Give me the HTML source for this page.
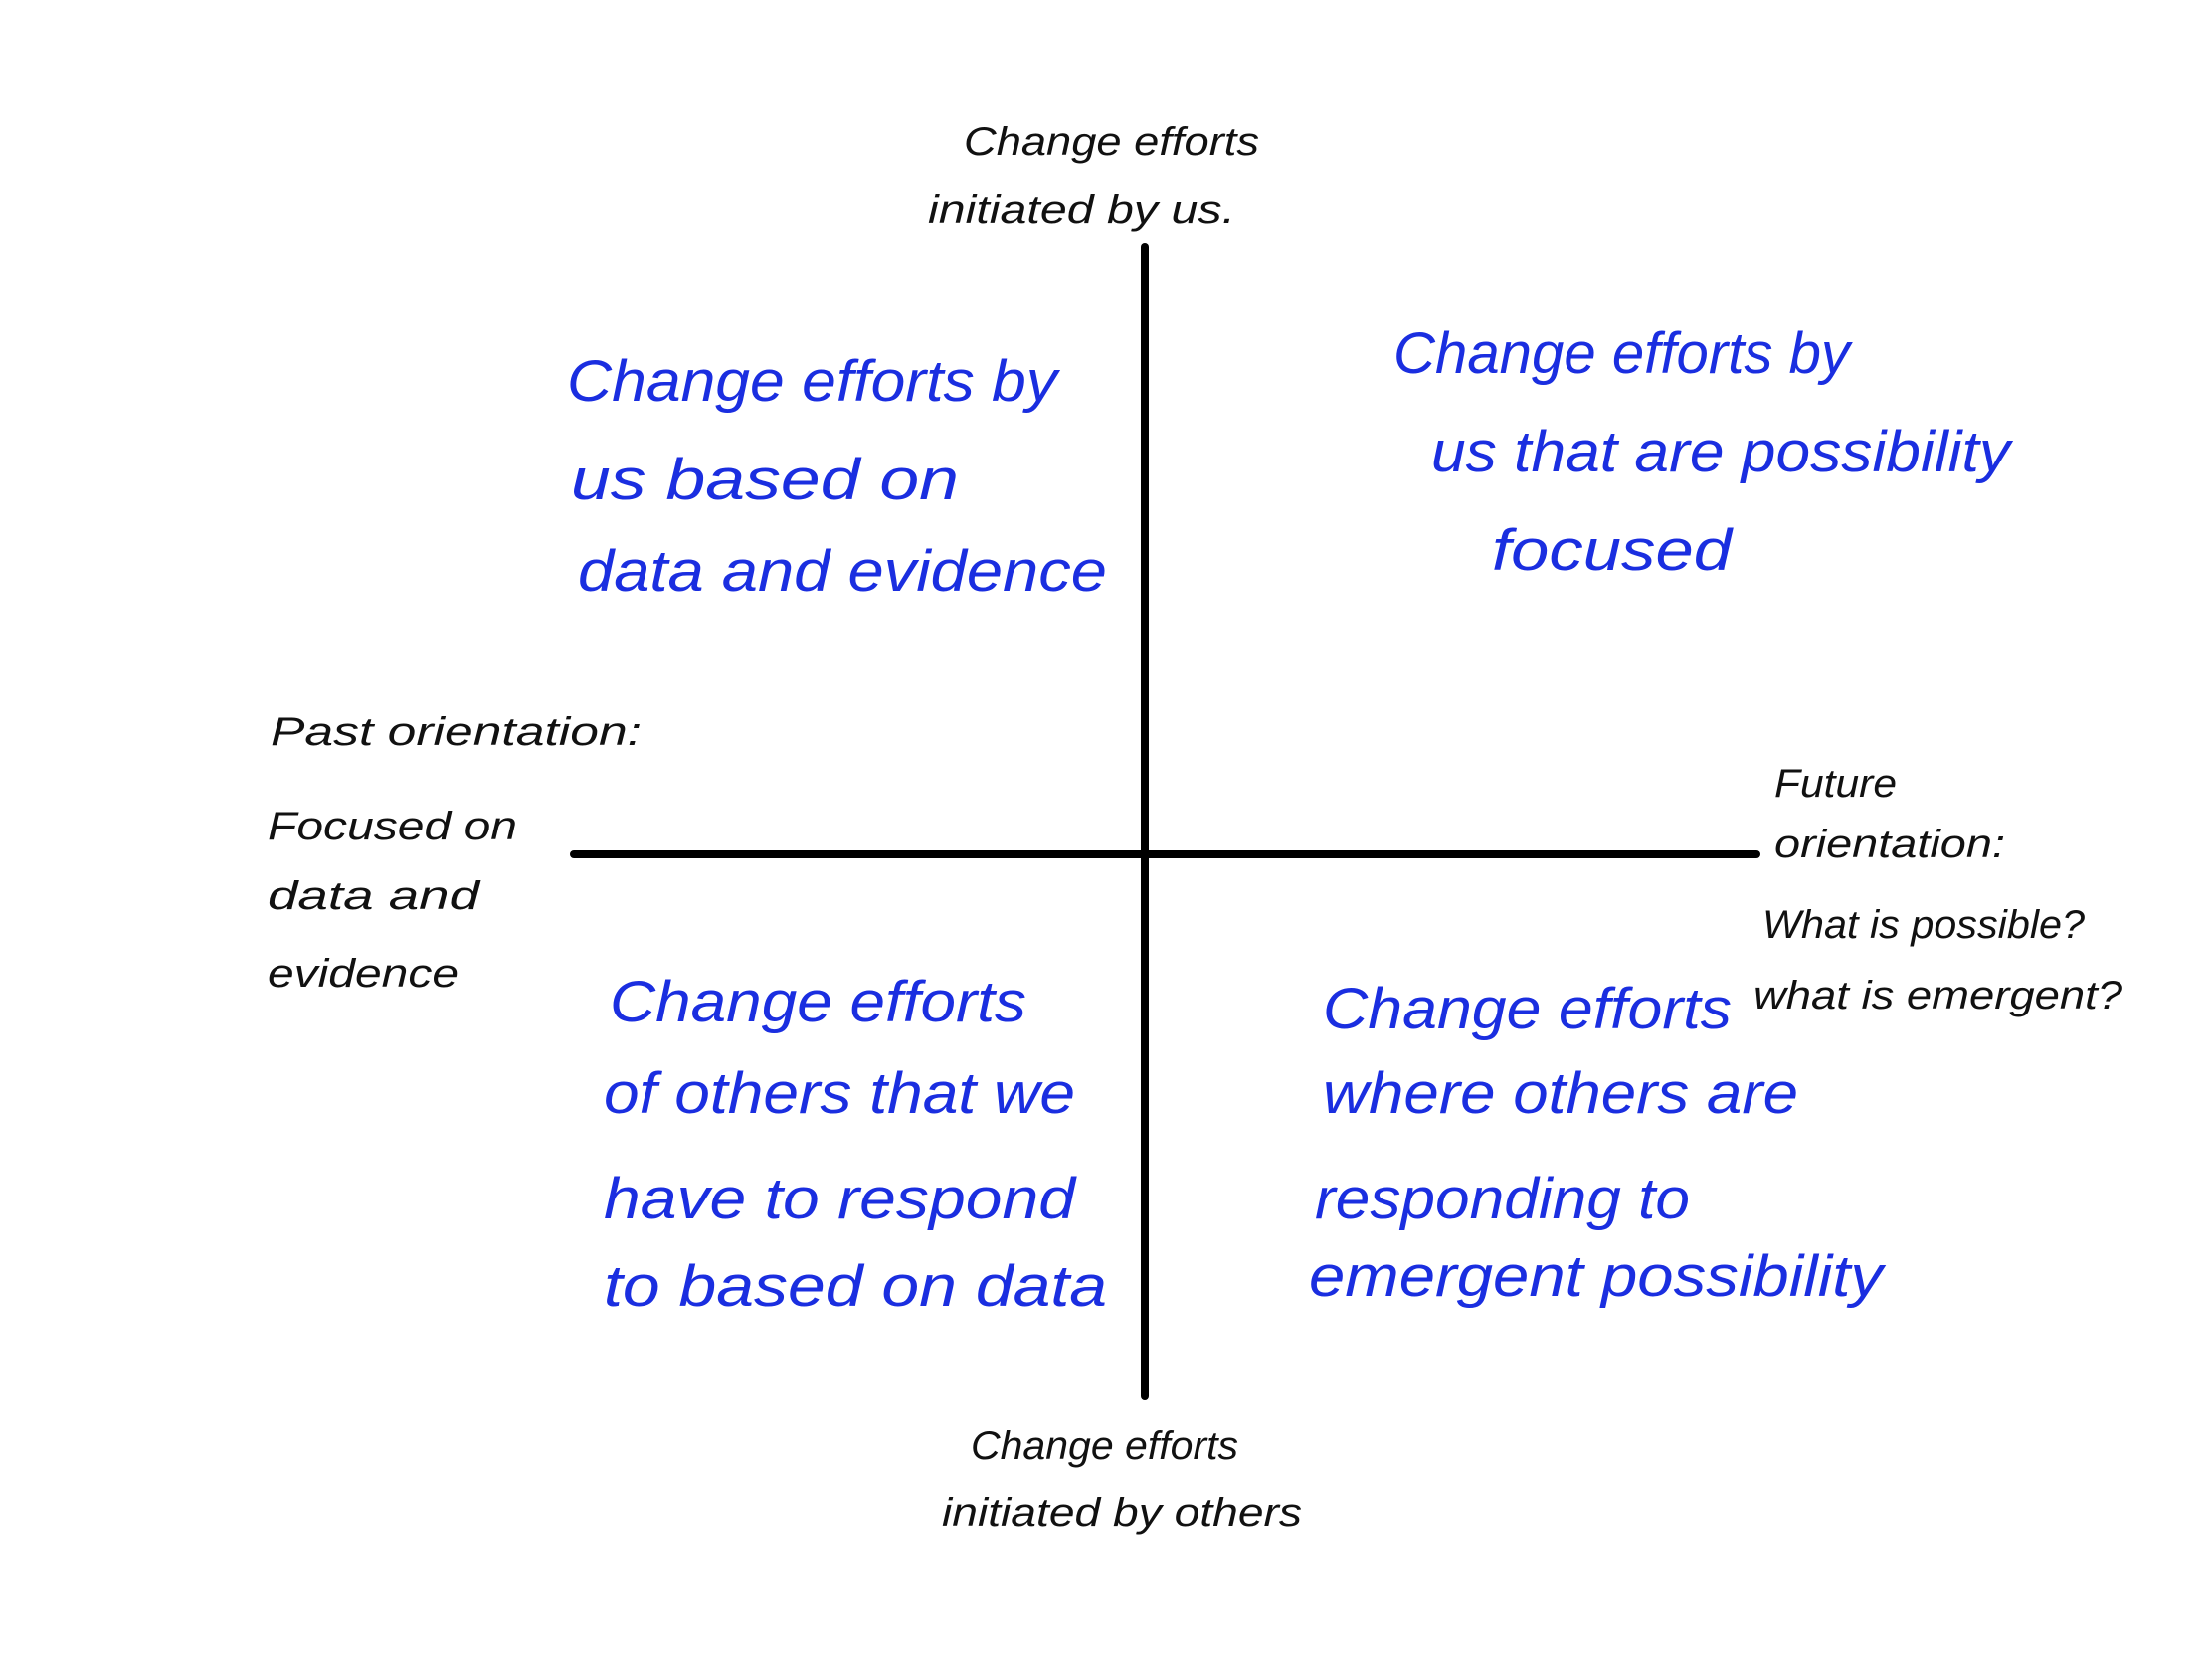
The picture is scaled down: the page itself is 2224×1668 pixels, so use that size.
<!DOCTYPE html>
<html><head><meta charset="utf-8"><style>
html,body{margin:0;padding:0;background:#fff;}
svg{display:block;}
text{font-family:"Liberation Sans",sans-serif;font-style:italic;}
.b{fill:#1a2ee0;font-size:58px;}
.k{fill:#111;font-size:40px;}
</style></head><body>
<svg width="2224" height="1668" viewBox="0 0 2224 1668">
<line x1="1151" y1="248" x2="1151" y2="1404" stroke="#000" stroke-width="8" stroke-linecap="round"/>
<line x1="577" y1="859" x2="1766" y2="859" stroke="#000" stroke-width="8" stroke-linecap="round"/>

<text class="k" x="969" y="156" textLength="297" lengthAdjust="spacingAndGlyphs">Change efforts</text>
<text class="k" x="933" y="224" textLength="309" lengthAdjust="spacingAndGlyphs">initiated by us.</text>

<text class="b" x="570" y="403" textLength="493" lengthAdjust="spacingAndGlyphs">Change efforts by</text>
<text class="b" x="574" y="502" textLength="390" lengthAdjust="spacingAndGlyphs">us based on</text>
<text class="b" x="581" y="594" textLength="532" lengthAdjust="spacingAndGlyphs">data and evidence</text>

<text class="b" x="1401" y="375" textLength="459" lengthAdjust="spacingAndGlyphs">Change efforts by</text>
<text class="b" x="1439" y="474" textLength="582" lengthAdjust="spacingAndGlyphs">us that are possibility</text>
<text class="b" x="1500" y="573" textLength="241" lengthAdjust="spacingAndGlyphs">focused</text>

<text class="k" x="272" y="749" textLength="373" lengthAdjust="spacingAndGlyphs">Past orientation:</text>
<text class="k" x="269" y="844" textLength="251" lengthAdjust="spacingAndGlyphs">Focused on</text>
<text class="k" x="269" y="914" textLength="213" lengthAdjust="spacingAndGlyphs">data and</text>
<text class="k" x="269" y="992" textLength="192" lengthAdjust="spacingAndGlyphs">evidence</text>

<text class="k" x="1784" y="801" textLength="123" lengthAdjust="spacingAndGlyphs">Future</text>
<text class="k" x="1784" y="862" textLength="232" lengthAdjust="spacingAndGlyphs">orientation:</text>
<text class="k" x="1772" y="943" textLength="324" lengthAdjust="spacingAndGlyphs">What is possible?</text>
<text class="k" x="1763" y="1014" textLength="371" lengthAdjust="spacingAndGlyphs">what is emergent?</text>

<text class="b" x="613" y="1027" textLength="419" lengthAdjust="spacingAndGlyphs">Change efforts</text>
<text class="b" x="607" y="1119" textLength="474" lengthAdjust="spacingAndGlyphs">of others that we</text>
<text class="b" x="607" y="1225" textLength="474" lengthAdjust="spacingAndGlyphs">have to respond</text>
<text class="b" x="607" y="1313" textLength="506" lengthAdjust="spacingAndGlyphs">to based on data</text>

<text class="b" x="1330" y="1034" textLength="411" lengthAdjust="spacingAndGlyphs">Change efforts</text>
<text class="b" x="1330" y="1119" textLength="478" lengthAdjust="spacingAndGlyphs">where others are</text>
<text class="b" x="1322" y="1225" textLength="377" lengthAdjust="spacingAndGlyphs">responding to</text>
<text class="b" x="1316" y="1303" textLength="577" lengthAdjust="spacingAndGlyphs">emergent possibility</text>

<text class="k" x="976" y="1467" textLength="269" lengthAdjust="spacingAndGlyphs">Change efforts</text>
<text class="k" x="947" y="1534" textLength="362" lengthAdjust="spacingAndGlyphs">initiated by others</text>
</svg>
</body></html>
